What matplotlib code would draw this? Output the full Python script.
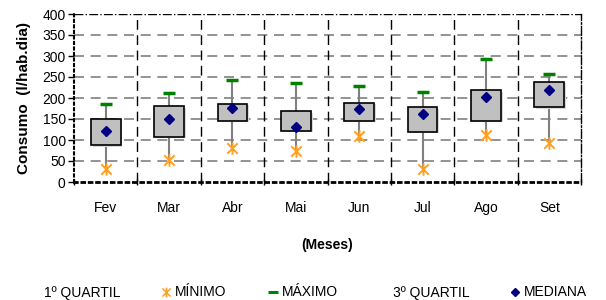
import matplotlib.pyplot as plt
from matplotlib.lines import Line2D
from matplotlib.patches import Rectangle
from matplotlib.path import Path

plt.rcParams['font.family'] = ['Liberation Sans', 'DejaVu Sans']

meses = ["Fev", "Mar", "Abr", "Mai", "Jun", "Jul", "Ago", "Set"]
minimo = [30, 52, 80, 75, 110, 30, 112, 94]
quartil1 = [87, 108, 146, 122, 146, 120, 146, 178]
mediana = [122, 150, 176, 130, 173, 163, 202, 220]
quartil3 = [150, 180, 186, 168, 188, 178, 218, 238]
maximo = [186, 211, 243, 235, 228, 214, 293, 258]

# X with a vertical bar, like the spreadsheet "star" marker
star = Path([(-1, -1), (1, 1), (-1, 1), (1, -1), (0, -1.2), (0, 1.2)],
            [Path.MOVETO, Path.LINETO, Path.MOVETO, Path.LINETO, Path.MOVETO, Path.LINETO])

fig = plt.figure(figsize=(6.06, 3.0), dpi=100)
ax = fig.add_axes([74 / 606, 1 - 182 / 300, 507 / 606, 168 / 300])

x = list(range(len(meses)))
bw = 0.47

# high-low lines
for i in x:
    ax.plot([i, i], [minimo[i], maximo[i]], color="#808080", lw=1.5, zorder=2)

# boxes (with a soft shadow)
for i in x:
    ax.add_patch(Rectangle((i - bw / 2 + 0.03, quartil1[i] - 3), bw, quartil3[i] - quartil1[i],
                           facecolor="#d8d8d8", edgecolor="none", zorder=3))
    ax.add_patch(Rectangle((i - bw / 2, quartil1[i]), bw, quartil3[i] - quartil1[i],
                           facecolor="#c0c0c0", edgecolor="black", lw=1.2, zorder=4))

ax.plot(x, minimo, linestyle="none", marker=star, color="#ffa020", ms=9, mew=1.4,
        fillstyle="none", zorder=5)
ax.plot(x, maximo, linestyle="none", marker="_", color="#008000", ms=9, mew=2.5, zorder=5)
ax.plot(x, mediana, linestyle="none", marker="D", color="#000080", ms=5.5, zorder=6)

ax.set_xlim(-0.5, len(meses) - 0.5)
ax.set_ylim(0, 400)
ax.set_yticks(range(0, 401, 50))
ax.set_xticks(x)
ax.set_xticklabels(meses)
ax.set_xticks([i + 0.5 for i in range(-1, len(meses))], minor=True)

# grid
for y in range(50, 400, 50):
    ax.axhline(y, color="#808080", lw=1.2, dashes=(6, 4), zorder=1)
for b in range(len(meses) - 1):
    ax.axvline(b + 0.5, color="black", lw=1.0, dashes=(7, 4), zorder=1)
ax.axhline(400, color="black", lw=1.0, linestyle="-.", zorder=1)

ax.spines["top"].set_visible(False)
ax.spines["right"].set_linestyle("-.")
ax.spines["right"].set_linewidth(1.0)
ax.spines["left"].set_linestyle(":")
ax.spines["left"].set_linewidth(1.5)
ax.spines["bottom"].set_linestyle(":")
ax.spines["bottom"].set_linewidth(2.0)

ax.tick_params(axis="x", which="major", length=0, pad=14, labelsize=10)
ax.tick_params(axis="x", which="minor", length=5, width=1.0, direction="inout")
ax.tick_params(axis="y", length=4, width=1.0, labelsize=10, pad=2)

ax.set_ylabel("Consumo  (l/hab.dia)", fontsize=11, fontweight="bold", labelpad=8)
ax.set_xlabel("(Meses)", fontsize=10, fontweight="bold", labelpad=16)

handles = [
    Line2D([], [], linestyle="none"),
    Line2D([], [], linestyle="none", marker=star, color="#ffa020", ms=7, mew=1.1, fillstyle="none"),
    Line2D([], [], linestyle="none", marker="_", color="#008000", ms=7, mew=2.2),
    Line2D([], [], linestyle="none"),
    Line2D([], [], linestyle="none", marker="D", color="#000080", ms=4.5),
]
labels = ["1º QUARTIL", "MÍNIMO", "MÁXIMO", "3º QUARTIL", "MEDIANA"]
fig.legend(handles, labels, loc="lower center", bbox_to_anchor=(0.51, -0.04), ncol=5,
           frameon=False, fontsize=10, handlelength=0.6, handletextpad=0.35, columnspacing=3.0)

fig.savefig("out.png", dpi=100)
